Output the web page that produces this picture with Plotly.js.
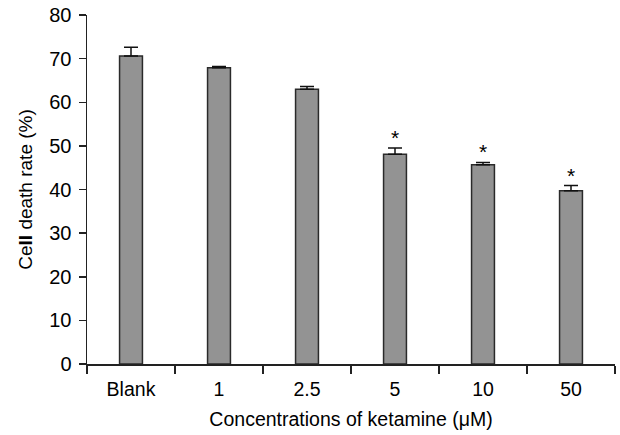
<!DOCTYPE html>
<html>
<head>
<meta charset="utf-8">
<script src="https://cdn.plot.ly/plotly-3.0.1.min.js"></script>
<style>html,body{margin:0;padding:0;background:#fff;}#chart{width:620px;height:435px;}</style>
</head>
<body>
<div id="chart"></div>
<script>
const categories = ["Blank", "1", "2.5", "5", "10", "50"];
const deathRate = [70.6, 67.9, 63.0, 48.1, 45.7, 39.7];
const errorUp = [2.0, 0.3, 0.6, 1.4, 0.5, 1.2];
const significant = [false, false, false, true, true, true];

const trace = {
  type: "bar",
  x: categories,
  y: deathRate,
  marker: {color: "#939393", line: {color: "#2a2a2a", width: 1.5}},
  error_y: {type: "data", symmetric: false, array: errorUp, arrayminus: errorUp.map(() => 0),
            color: "#111", thickness: 1.5, width: 7},
  hoverinfo: "none"
};

const annotations = [];
categories.forEach((c, i) => {
  if (significant[i]) {
    annotations.push({x: i, y: deathRate[i] + errorUp[i], xref: "x", yref: "y", text: "*", showarrow: false,
      yanchor: "bottom", yshift: -3, font: {family: "Liberation Sans, Arial, sans-serif", size: 21, color: "#000"}});
  }
});

const layout = {
  width: 620, height: 435,
  margin: {l: 87, r: 5, t: 15, b: 71},
  paper_bgcolor: "#fff", plot_bgcolor: "#fff",
  bargap: 0.74,
  showlegend: false,
  font: {family: "Liberation Sans, Arial, sans-serif", size: 19.5, color: "#000"},
  xaxis: {
    type: "category",
    range: [-0.5, categories.length - 0.5], autorange: false,
    tickangle: 0,
    showline: true, linecolor: "#222", linewidth: 1.5,
    ticks: "outside", tickson: "boundaries", ticklen: 8, tickwidth: 1.5, tickcolor: "#222",
    ticklabelstandoff: 7,
    showgrid: false, zeroline: false,
    tickfont: {size: 19.5},
    title: {text: "Concentrations of ketamine (μM)", font: {size: 19.5}, standoff: 13}
  },
  yaxis: {
    range: [0, 80], autorange: false, dtick: 10,
    showline: true, linecolor: "#222", linewidth: 1.5,
    ticks: "outside", ticklen: 7, tickwidth: 1.5, tickcolor: "#222",
    ticklabelstandoff: 3,
    showgrid: false, zeroline: false,
    tickfont: {size: 20},
    title: {text: "Ce<b>ll</b> death rate (%)", font: {size: 19}, standoff: 11}
  },
  annotations: annotations
};

Plotly.newPlot("chart", [trace], layout, {staticPlot: true, displayModeBar: false});
</script>
</body>
</html>
